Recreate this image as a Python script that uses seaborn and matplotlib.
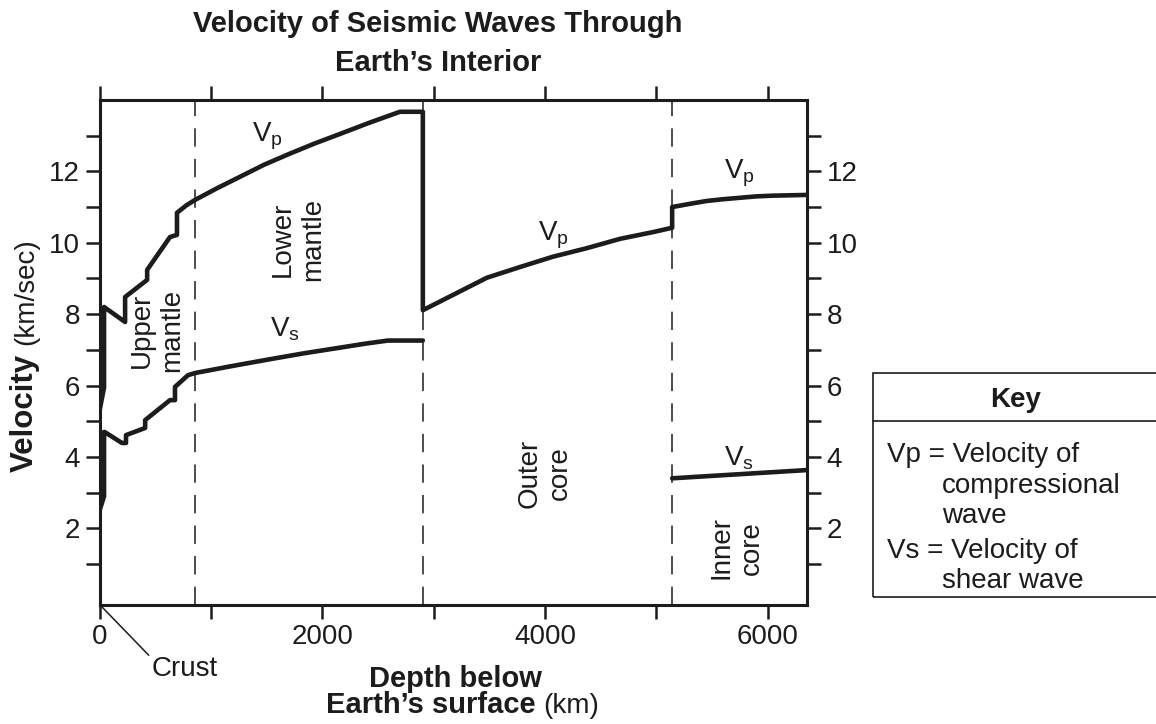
import matplotlib
matplotlib.use("Agg")
import matplotlib.pyplot as plt
import seaborn as sns
import pandas as pd
from matplotlib.patches import Rectangle
from matplotlib.lines import Line2D

# values (depth in km, velocity in km/sec)
vp_depth = [0, 40, 40, 229, 229, 427, 427, 632, 695, 695, 780, 857,
            1050, 1262, 1480, 1711, 1930, 2160, 2420, 2697, 2903, 2903,
            3175, 3478, 3776, 4072, 4378, 4674, 4973, 5142,
            5142, 5300, 5450, 5600, 5750, 5900, 6050, 6200, 6350]
vp_vel = [5.3, 5.95, 8.2, 7.78, 8.48, 8.96, 9.24, 10.16, 10.22, 10.84, 11.05, 11.2,
          11.52, 11.85, 12.19, 12.5, 12.78, 13.05, 13.36, 13.67, 13.67, 8.11,
          8.54, 9.02, 9.32, 9.61, 9.85, 10.11, 10.3, 10.42,
          11.0, 11.09, 11.17, 11.22, 11.26, 11.3, 11.32, 11.33, 11.34]

vs_mantle_depth = [0, 40, 40, 49, 201, 237, 237, 409, 409, 632, 677, 677, 794, 857,
                   1180, 1500, 1830, 2157, 2380, 2590, 2903]
vs_mantle_vel = [2.5, 2.9, 4.7, 4.69, 4.39, 4.39, 4.61, 4.81, 5.03, 5.59, 5.59, 5.96, 6.29, 6.35,
                 6.54, 6.72, 6.9, 7.06, 7.17, 7.26, 7.26]

vs_core_depth = [5142, 6350]
vs_core_vel = [3.4, 3.63]

boundaries = [857, 2903, 5142]

x_ticks = [0, 2000, 4000, 6000]
y_ticks = [2, 4, 6, 8, 10, 12]

sns.set_theme(style="ticks")
plt.rcParams['font.family'] = ['Liberation Sans', 'DejaVu Sans']
plt.rcParams['mathtext.fontset'] = 'custom'
plt.rcParams['mathtext.rm'] = 'Liberation Sans'
plt.rcParams['mathtext.it'] = 'Liberation Sans:italic'
plt.rcParams['mathtext.bf'] = 'Liberation Sans:bold'

ink = '#1c1c1c'
W, H = 1156, 724

frames = [
    pd.DataFrame({'depth': vp_depth, 'vel': vp_vel, 'seg': 'vp'}),
    pd.DataFrame({'depth': vs_mantle_depth, 'vel': vs_mantle_vel, 'seg': 'vs1'}),
    pd.DataFrame({'depth': vs_core_depth, 'vel': vs_core_vel, 'seg': 'vs2'}),
]
df = pd.concat(frames, ignore_index=True)

fig = plt.figure(figsize=(W / 100, H / 100), dpi=100)
ax = fig.add_axes([99.6 / W, 1 - 605 / H, (807 - 99.6) / W, (605 - 100) / H])

for b in boundaries:
    ax.axvline(b, color=ink, lw=1.1, dashes=(12, 8), zorder=1)

sns.lineplot(data=df, x='depth', y='vel', units='seg', estimator=None, sort=False,
             color=ink, lw=3.3, ax=ax, zorder=3)

ax.set_xlim(0, 6353)
ax.set_ylim(-0.15, 14.0)
ax.set_xticks(x_ticks)
ax.set_xticks([1000, 3000, 5000], minor=True)
ax.set_yticks(y_ticks)
ax.set_yticks([1, 3, 5, 7, 9, 11, 13], minor=True)
ax.set_xlabel('')
ax.set_ylabel('')
for s in ax.spines.values():
    s.set_linewidth(2.2)
    s.set_color(ink)
    s.set_visible(True)
ax.tick_params(which='both', direction='out', length=10, width=1.8, color=ink,
               top=True, right=True, labelright=True, labelsize=20, labelcolor=ink, pad=4)

# region names
lab = dict(rotation=90, ha='center', va='center', fontsize=20, color=ink,
           multialignment='center')
ax.text(515, 7.55, 'Upper\nmantle', **lab)
ax.text(1782, 10.1, 'Lower\nmantle', **lab)
ax.text(4000, 3.55, 'Outer\ncore', **lab)
ax.text(5724, 1.45, 'Inner\ncore', **lab)

# curve names
cl = dict(ha='center', va='center', fontsize=20, color=ink)
ax.text(1505, 12.98, r'V$_\mathrm{p}$', **cl)
ax.text(4080, 10.2, r'V$_\mathrm{p}$', **cl)
ax.text(5750, 11.95, r'V$_\mathrm{p}$', **cl)
ax.text(1665, 7.58, r'V$_\mathrm{s}$', **cl)
ax.text(5740, 3.95, r'V$_\mathrm{s}$', **cl)

# crust pointer
ax.annotate('Crust', xy=(20, -0.2), xycoords='data',
            xytext=(152 / W, 1 - 669 / H), textcoords='figure fraction',
            ha='left', va='center', fontsize=20, color=ink, annotation_clip=False,
            arrowprops=dict(arrowstyle='-', lw=1.1, color=ink, shrinkA=0, shrinkB=0,
                            relpos=(0, 0.9)))

# title
fig.text(438 / W, 1 - 32 / H, 'Velocity of Seismic Waves Through', ha='center',
         va='baseline', fontsize=21, fontweight='bold', color=ink)
fig.text(438 / W, 1 - 71 / H, 'Earth\u2019s Interior', ha='center',
         va='baseline', fontsize=21, fontweight='bold', color=ink)

# x label
fig.text(455 / W, 1 - 687 / H, 'Depth below', ha='center', va='baseline',
         fontsize=21, fontweight='bold', color=ink)
fig.text(536 / W, 1 - 713 / H, 'Earth\u2019s surface', ha='right', va='baseline',
         fontsize=21, fontweight='bold', color=ink)
fig.text(543 / W, 1 - 713 / H, '(km)', ha='left', va='baseline',
         fontsize=20, color=ink)

# y label
fig.text(33 / W, 1 - 472 / H, 'Velocity', rotation=90, rotation_mode='anchor',
         ha='left', va='baseline', fontsize=22.5, fontweight='bold', color=ink)
fig.text(33 / W, 1 - 345 / H, '(km/sec)', rotation=90, rotation_mode='anchor',
         ha='left', va='baseline', fontsize=20, color=ink)

# key box
fig.add_artist(Rectangle((873 / W, 1 - 597 / H), (1170 - 873) / W, (597 - 373) / H,
                         transform=fig.transFigure, fill=False, lw=1.2, edgecolor=ink))
fig.add_artist(Line2D([873 / W, 1.02], [1 - 421 / H, 1 - 421 / H],
                      transform=fig.transFigure, lw=1.2, color=ink))
fig.text(1016 / W, 1 - 407 / H, 'Key', ha='center', va='baseline', fontsize=20,
         fontweight='bold', color=ink)
key_lines = [(887, 462, 'Vp = Velocity of'), (942, 493, 'compressional'),
             (942, 523, 'wave'), (887, 558, 'Vs = Velocity of'), (942, 588, 'shear wave')]
for kx, ky, kt in key_lines:
    fig.text(kx / W, 1 - ky / H, kt, ha='left', va='baseline', fontsize=20, color=ink)

fig.savefig('out.png', dpi=100)
